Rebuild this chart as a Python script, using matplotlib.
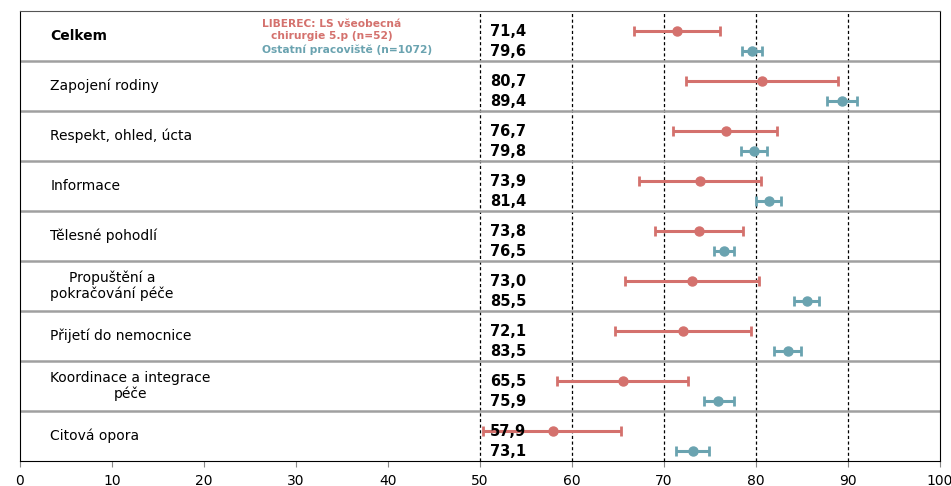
import matplotlib.pyplot as plt
import numpy as np

categories = ['Celkem', 'Zapojení rodiny', 'Respekt, ohled, úcta', 'Informace',
              'Tělesné pohodlí', 'Propuštění a\npokračování péče', 'Přijetí do nemocnice',
              'Koordinace a integrace\npéče', 'Citová opora']
liberec = [71.4, 80.7, 76.7, 73.9, 73.8, 73.0, 72.1, 65.5, 57.9]
liberec_lo = [66.7, 72.4, 71.0, 67.3, 69.0, 65.8, 64.7, 58.4, 50.3]
liberec_hi = [76.1, 88.9, 82.3, 80.5, 78.6, 80.3, 79.5, 72.6, 65.3]
ostatni = [79.6, 89.4, 79.8, 81.4, 76.5, 85.5, 83.5, 75.9, 73.1]
ostatni_lo = [78.5, 87.7, 78.4, 80.0, 75.4, 84.1, 82.0, 74.3, 71.3]
ostatni_hi = [80.7, 91.0, 81.2, 82.7, 77.6, 86.9, 84.9, 77.6, 74.9]

red = '#d4716d'
teal = '#6aa3b0'

plt.rcParams['font.family'] = 'DejaVu Sans'
fig = plt.figure(figsize=(9.51, 4.86), dpi=100)
ax = fig.add_axes([20/951, 25/486, 920/951, 450/486])

n = len(categories)
rows = np.arange(n)
y_red = rows + 0.4
y_blue = rows + 0.8

# dashed reference lines
for xv in [50, 60, 70, 80, 90]:
    ax.axvline(xv, color='black', ls=(0, (2.5, 2)), lw=0.9, zorder=1)
# row separators
for i in range(1, n):
    ax.axhline(i, color='#a0a0a0', lw=1.8, zorder=2)

l = np.array(liberec)
o = np.array(ostatni)
ax.errorbar(l, y_red, xerr=[l - np.array(liberec_lo), np.array(liberec_hi) - l],
            fmt='o', color=red, ms=6.5, lw=2.2, capsize=3.5, capthick=2, zorder=4)
ax.errorbar(o, y_blue, xerr=[o - np.array(ostatni_lo), np.array(ostatni_hi) - o],
            fmt='o', color=teal, ms=6.5, lw=2.2, capsize=3.5, capthick=2, zorder=4)

for i, cat in enumerate(categories):
    if '\n' in cat:
        ax.text(3.3, i + 0.5, cat, ha='left', va='center', fontsize=10,
                multialignment='center', linespacing=1.1)
    else:
        ax.text(3.3, i + 0.5, cat, ha='left', va='center', fontsize=10,
                fontweight='bold' if i == 0 else 'normal')
    ax.text(51.1, y_red[i], f'{liberec[i]:.1f}'.replace('.', ','), ha='left', va='center',
            fontsize=10.5, fontweight='bold', zorder=5)
    ax.text(51.1, y_blue[i], f'{ostatni[i]:.1f}'.replace('.', ','), ha='left', va='center',
            fontsize=10.5, fontweight='bold', zorder=5)

# legend texts
ax.text(26.3, 0.38, 'LIBEREC: LS všeobecná\nchirurgie 5.p (n=52)', ha='left', va='center',
        fontsize=7.7, fontweight='bold', color=red, multialignment='center', linespacing=1.17)
ax.text(26.3, 0.78, 'Ostatní pracoviště (n=1072)', ha='left', va='center',
        fontsize=7.7, fontweight='bold', color=teal)

ax.set_xlim(0, 100)
ax.set_ylim(n, 0)
ax.set_xticks(np.arange(0, 101, 10))
ax.set_yticks([])
ax.tick_params(axis='x', labelsize=10, length=4, color='#888888', pad=5)
ax.spines['top'].set_color('#555555')
for s in ['left', 'right', 'bottom']:
    ax.spines[s].set_color('black')

plt.savefig('out.png', dpi=100)
